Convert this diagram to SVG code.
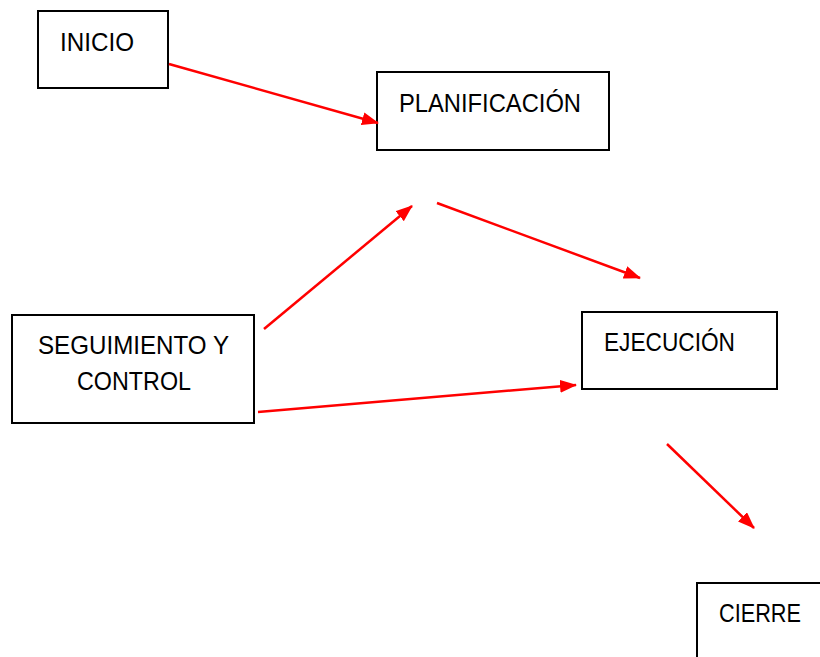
<svg xmlns="http://www.w3.org/2000/svg" width="820" height="657" viewBox="0 0 820 657">
<style>
.box{fill:#fff;stroke:#000;stroke-width:2}
.lbl{font-family:"Liberation Sans","Open Sans",Arial,sans-serif;font-size:26px;fill:#000}
.con{stroke:#ff0000;stroke-width:2.5;fill:none}
</style>
<defs>
<marker id="ah" markerUnits="userSpaceOnUse" markerWidth="17" markerHeight="13" refX="16" refY="6.5" orient="auto">
<path d="M0,0 L17,6.5 L0,13 z" fill="#ff0000"/>
</marker>
</defs>
<rect width="820" height="657" fill="#fff"/>
<g id="inicio">
<rect class="box" x="38" y="11" width="130" height="77"/>
<text class="lbl" x="60" y="51" textLength="74" lengthAdjust="spacingAndGlyphs">INICIO</text>
</g>
<g id="planificacion">
<rect class="box" x="377" y="72" width="232" height="78"/>
<text class="lbl" x="399" y="112" textLength="182" lengthAdjust="spacingAndGlyphs">PLANIFICACIÓN</text>
</g>
<g id="seguimiento">
<rect class="box" x="12" y="315" width="242" height="108"/>
<text class="lbl" x="38" y="354" textLength="191" lengthAdjust="spacingAndGlyphs">SEGUIMIENTO Y</text>
<text class="lbl" x="77" y="390" textLength="114" lengthAdjust="spacingAndGlyphs">CONTROL</text>
</g>
<g id="ejecucion">
<rect class="box" x="582" y="312" width="195" height="77"/>
<text class="lbl" x="604" y="351" textLength="131" lengthAdjust="spacingAndGlyphs">EJECUCIÓN</text>
</g>
<g id="cierre">
<rect class="box" x="697" y="583" width="140" height="90"/>
<text class="lbl" x="719" y="622" textLength="82" lengthAdjust="spacingAndGlyphs">CIERRE</text>
</g>
<g id="connectors">
<line class="con" x1="169" y1="64" x2="378" y2="123" marker-end="url(#ah)"/>
<line class="con" x1="264" y1="329" x2="412" y2="206" marker-end="url(#ah)"/>
<line class="con" x1="437" y1="203" x2="640" y2="278" marker-end="url(#ah)"/>
<line class="con" x1="258" y1="412" x2="576" y2="385" marker-end="url(#ah)"/>
<line class="con" x1="667" y1="444" x2="754" y2="528" marker-end="url(#ah)"/>
</g>
</svg>
